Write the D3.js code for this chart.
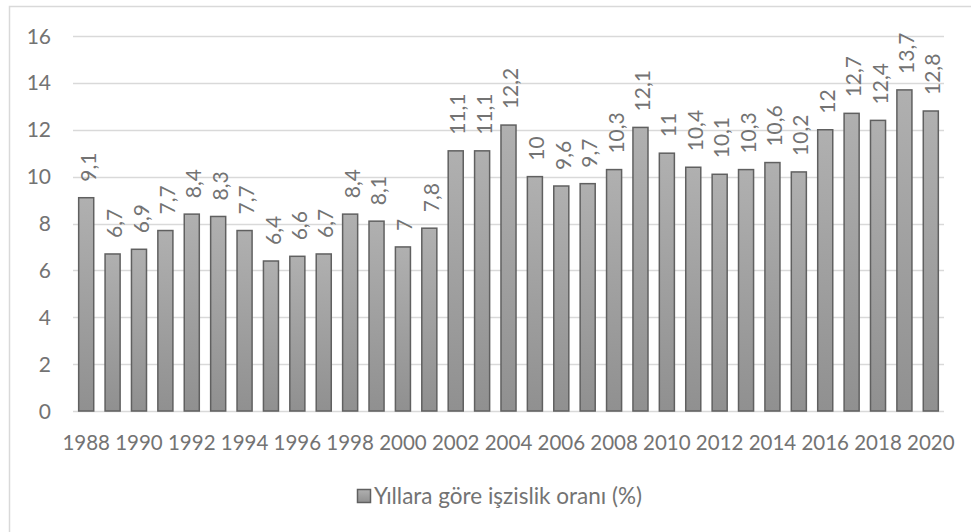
<!DOCTYPE html>
<html>
<head>
<meta charset="utf-8">
<title>Yıllara göre işsizlik oranı</title>
<style>
body {
    margin: 0px;
    overflow: hidden;
    background: #fff;
}
text {
    font-family: Lato, "Open Sans", sans-serif;
    fill: #737373;
}
</style>
<script src="https://cdnjs.cloudflare.com/ajax/libs/d3/7.8.5/d3.min.js"></script>
</head>
<body>
<div id="chart"></div>
<script>

var years = d3.range(1988, 2021);
var rates = [9.1, 6.7, 6.9, 7.7, 8.4, 8.3, 7.7, 6.4, 6.6, 6.7, 8.4, 8.1, 7, 7.8,
             11.1, 11.1, 12.2, 10, 9.6, 9.7, 10.3, 12.1, 11, 10.4, 10.1, 10.3, 10.6,
             10.2, 12, 12.7, 12.4, 13.7, 12.8];
var yTicks = [0, 2, 4, 6, 8, 10, 12, 14, 16];
var seriesName = "Yıllara göre işzislik oranı (%)";

var width = 971, height = 532;
var plotLeft = 73, plotRight = 944, plotTop = 36, plotBottom = 411;

var svg = d3.select("#chart").append("svg")
    .attr("width", width)
    .attr("height", height);

var defs = svg.append("defs");
var grad = defs.append("linearGradient")
    .attr("id", "barGrad")
    .attr("x1", 0).attr("y1", 0).attr("x2", 0).attr("y2", 1);
grad.append("stop").attr("offset", "0%").attr("stop-color", "#b0b0b0");
grad.append("stop").attr("offset", "100%").attr("stop-color", "#909090");

// chart border
svg.append("rect")
    .attr("x", 9.5).attr("y", 6.5)
    .attr("width", 1000).attr("height", 1000)
    .attr("fill", "none")
    .attr("stroke", "#d9d9d9")
    .attr("stroke-width", 1.5);

var x = d3.scaleBand()
    .domain(years)
    .range([plotLeft, plotRight])
    .paddingInner(0.43)
    .paddingOuter(0.215);

var y = d3.scaleLinear()
    .domain([0, 16])
    .range([plotBottom, plotTop]);

// gridlines
svg.append("g")
    .selectAll("line")
    .data(yTicks)
    .enter().append("line")
    .attr("x1", plotLeft).attr("x2", plotRight)
    .attr("y1", function (d) { return Math.round(y(d)) + 0.5; })
    .attr("y2", function (d) { return Math.round(y(d)) + 0.5; })
    .attr("stroke", "#d9d9d9")
    .attr("stroke-width", 1.5);

// y labels
svg.append("g")
    .selectAll("text")
    .data(yTicks)
    .enter().append("text")
    .attr("x", 51)
    .attr("y", function (d) { return y(d); })
    .attr("dy", "0.36em")
    .attr("text-anchor", "end")
    .style("font-size", "21px")
    .text(function (d) { return d; });

// bars
svg.append("g")
    .selectAll("rect")
    .data(rates)
    .enter().append("rect")
    .attr("x", function (d, i) { return x(years[i]); })
    .attr("y", function (d) { return y(d); })
    .attr("width", x.bandwidth())
    .attr("height", function (d) { return plotBottom - y(d); })
    .attr("fill", "url(#barGrad)")
    .attr("stroke", "#606060")
    .attr("stroke-width", 1.5);

// value labels
svg.append("g")
    .selectAll("text")
    .data(rates)
    .enter().append("text")
    .attr("transform", function (d, i) {
        var cx = x(years[i]) + x.bandwidth() / 2 + 2;
        return "translate(" + cx + "," + (y(d) - 16) + ") rotate(-90)";
    })
    .attr("dy", "0.36em")
    .style("font-size", "21px")
    .text(function (d) { return String(d).replace(".", ","); });

// x labels
svg.append("g")
    .selectAll("text")
    .data(years.filter(function (d) { return d % 2 === 0; }))
    .enter().append("text")
    .attr("x", function (d) { return x(d) + x.bandwidth() / 2; })
    .attr("y", 443)
    .attr("dy", "0.36em")
    .attr("text-anchor", "middle")
    .style("font-size", "20.5px")
    .text(function (d) { return d; });

// legend
var legend = svg.append("g");
legend.append("rect")
    .attr("x", 357.5).attr("y", 489.5)
    .attr("width", 13).attr("height", 13)
    .attr("fill", "url(#barGrad)")
    .attr("stroke", "#606060")
    .attr("stroke-width", 1.5);
legend.append("text")
    .attr("x", 374)
    .attr("y", 496)
    .attr("dy", "0.36em")
    .style("font-size", "22.5px")
    .text(seriesName);

</script>
</body>
</html>
